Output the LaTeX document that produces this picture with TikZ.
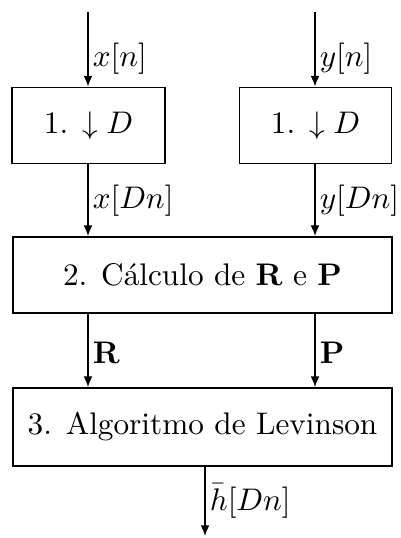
\documentclass[tikz,border=0pt]{standalone}
\usetikzlibrary{arrows.meta}
\def\u{0.32}
\begin{document}
\begin{tikzpicture}[x=\u pt,y=-\u pt,
  blk/.style={draw,line width=0.6pt,inner sep=0pt,minimum height={76*\u pt}},
  sig/.style={-{Latex[length=3.4pt,width=2.8pt]},line width=0.4pt},
  lbl/.style={anchor=west,inner sep=1pt}]
\useasboundingbox (0,0) rectangle (401,538);
\node[blk,minimum width={153*\u pt}] (b1l) at (88.5,125.5) {1. $\downarrow D$};
\node[blk,minimum width={152*\u pt}] (b1r) at (315.5,125.5) {1. $\downarrow D$};
\node[blk,minimum width={379*\u pt}] (b2) at (202.5,275) {2. Cálculo de $\mathbf{R}$ e $\mathbf{P}$};
\node[blk,minimum width={379*\u pt},minimum height={78*\u pt}] (b3) at (202.5,427) {3. Algoritmo de Levinson};
\coordinate (inl) at (88,12);
\coordinate (inr) at (315,12);
\coordinate (out) at (205,536);
\draw[sig] (inl) -- (inl |- b1l.north);
\draw[sig] (inr) -- (inr |- b1r.north);
\draw[sig] (inl |- b1l.south) -- (inl |- b2.north);
\draw[sig] (inr |- b1r.south) -- (inr |- b2.north);
\draw[sig] (inl |- b2.south) -- (inl |- b3.north);
\draw[sig] (inr |- b2.south) -- (inr |- b3.north);
\draw[sig] (out |- b3.south) -- (out);
\node[lbl] (lxn) at (89,59) {$x[n]$};
\node[lbl] (lyn) at (316,59) {$y[n]$};
\node[lbl] (lxd) at (89,201) {$x[Dn]$};
\node[lbl] (lyd) at (316,201) {$y[Dn]$};
\node[lbl] (lr) at (89,353) {$\mathbf{R}$};
\node[lbl] (lp) at (316,353) {$\mathbf{P}$};
\node[lbl] (lh) at (206,501) {$\bar{h}[Dn]$};
\end{tikzpicture}
\end{document}
